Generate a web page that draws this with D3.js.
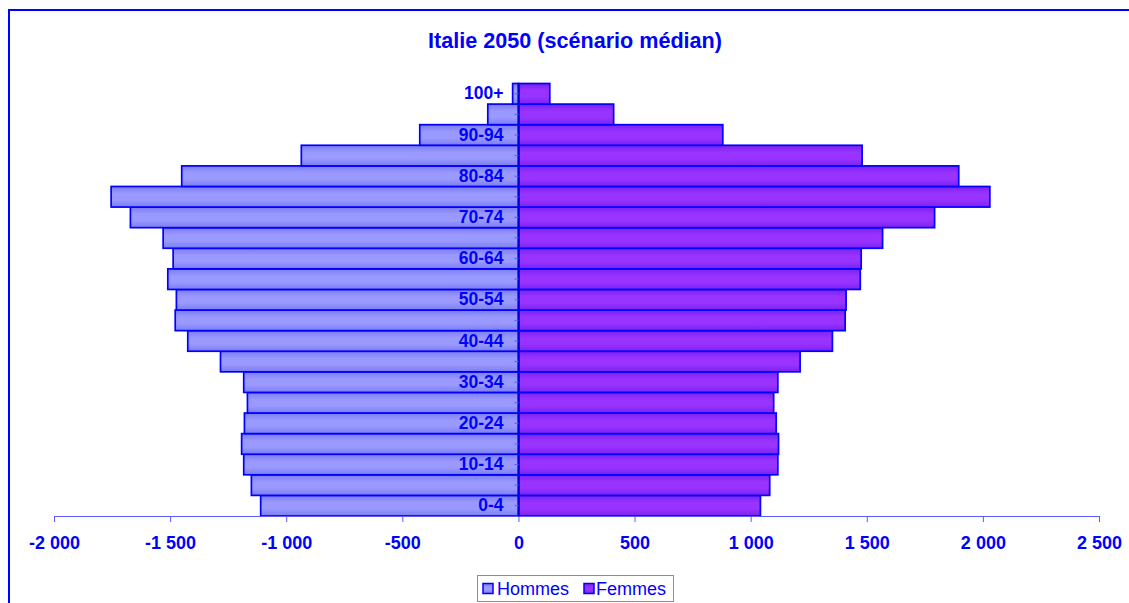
<!DOCTYPE html>
<html>
<head>
<meta charset="utf-8">
<script src="https://cdn.jsdelivr.net/npm/d3@7"></script>
<style>
  html, body { margin: 0; padding: 0; background: #fff; }
  svg { display: block; }
</style>
</head>
<body>
<svg id="chart" width="1129" height="603"></svg>
<script>
// ---- data (thousands) ----
const ages = ["0-4","5-9","10-14","15-19","20-24","25-29","30-34","35-39","40-44","45-49",
              "50-54","55-59","60-64","65-69","70-74","75-79","80-84","85-89","90-94","95-99","100+"];
const hommes = [-1110,-1150,-1183,-1192,-1180,-1167,-1183,-1283,-1424,-1478,
                -1473,-1510,-1487,-1530,-1671,-1754,-1450,-935,-425,-132,-25];
const femmes = [1042,1082,1117,1120,1110,1099,1117,1213,1352,1407,
                1411,1472,1476,1568,1792,2030,1896,1480,880,410,135];
const ageLabels = ["0-4","10-14","20-24","30-34","40-44","50-54","60-64","70-74","80-84","90-94","100+"];
const xTicks = [-2000,-1500,-1000,-500,0,500,1000,1500,2000,2500];
const seriesNames = ["Hommes","Femmes"];
const title = "Italie 2050 (scénario médian)";

const BLUE = "#0000ff";
const svg = d3.select("#chart");

// gradients
const defs = svg.append("defs");
function grad(id, edge, mid) {
  const g = defs.append("linearGradient").attr("id", id)
    .attr("x1", 0).attr("y1", 0).attr("x2", 0).attr("y2", 1);
  g.append("stop").attr("offset", "0%").attr("stop-color", edge);
  g.append("stop").attr("offset", "35%").attr("stop-color", mid);
  g.append("stop").attr("offset", "65%").attr("stop-color", mid);
  g.append("stop").attr("offset", "100%").attr("stop-color", edge);
}
grad("gH", "#7c7cf2", "#9999ff");
grad("gF", "#7a22f2", "#9933ff");

// outer frame
svg.append("path")
  .attr("d", "M9,603 L9,10 L1129,10")
  .attr("fill", "none").attr("stroke", BLUE).attr("stroke-width", 2);

// title
svg.append("text")
  .attr("x", 575).attr("y", 48)
  .attr("text-anchor", "middle")
  .attr("font-family", "'Liberation Sans Narrow','Arial Narrow','Liberation Sans',Arial,sans-serif")
  .attr("font-weight", "bold").attr("font-size", 22)
  .attr("fill", BLUE)
  .attr("textLength", 294).attr("lengthAdjust", "spacingAndGlyphs")
  .text(title);

// scales
const x = d3.scaleLinear().domain([-2000, 2500]).range([54, 1099]);
const y = d3.scaleBand().domain(ages.slice().reverse()).range([83.5, 516]).padding(0);

const rows = ages.map((a, i) => ({ age: a, h: hommes[i], f: femmes[i] }));

// bars
svg.append("g").selectAll("rect").data(rows).join("rect")
  .attr("x", d => x(d.h)).attr("width", d => x(0) - x(d.h))
  .attr("y", d => y(d.age)).attr("height", y.bandwidth())
  .attr("fill", "url(#gH)").attr("stroke", BLUE).attr("stroke-width", 1.7);
svg.append("g").selectAll("rect").data(rows).join("rect")
  .attr("x", x(0)).attr("width", d => x(d.f) - x(0))
  .attr("y", d => y(d.age)).attr("height", y.bandwidth())
  .attr("fill", "url(#gF)").attr("stroke", BLUE).attr("stroke-width", 1.7);

// bottom axis
const loc = d3.formatLocale({ decimal: ",", thousands: " ", grouping: [3], currency: ["", ""], minus: "-" });
const fmt = loc.format(",");
const xAxis = svg.append("g").attr("transform", "translate(0,516)")
  .call(d3.axisBottom(x).tickValues(xTicks).tickFormat(fmt).tickSize(6).tickSizeOuter(6).tickPadding(14));
xAxis.select(".domain").attr("stroke", "#5a5aff");
xAxis.selectAll(".tick line").attr("stroke", "#5a5aff");
xAxis.selectAll("text")
  .attr("font-family", "'Liberation Sans',Arial,sans-serif")
  .attr("font-weight", "bold").attr("font-size", 18).attr("fill", BLUE);

// left (age) axis at zero
const yAxis = svg.append("g").attr("transform", `translate(${x(0)},0)`)
  .call(d3.axisLeft(y).tickSize(4).tickSizeOuter(0).tickPadding(11)
    .tickFormat(d => ageLabels.includes(d) ? d : ""));
yAxis.select(".domain").attr("stroke", "#0000cc").attr("stroke-width", 1.5);
yAxis.selectAll(".tick line").attr("stroke", "#5a5aff");
yAxis.selectAll("text")
  .attr("font-family", "'Liberation Sans',Arial,sans-serif")
  .attr("font-weight", "bold").attr("font-size", 17.5).attr("fill", BLUE);

// legend
const lg = svg.append("g");
lg.append("rect").attr("x", 477.5).attr("y", 575.5).attr("width", 196).attr("height", 26)
  .attr("fill", "#fff").attr("stroke", "#8080ff").attr("stroke-width", 1);
const legendItems = [
  { name: seriesNames[0], fill: "url(#gH)", sx: 483, tx: 497 },
  { name: seriesNames[1], fill: "url(#gF)", sx: 584, tx: 596 }
];
legendItems.forEach(it => {
  lg.append("rect").attr("x", it.sx).attr("y", 583.5).attr("width", 10).attr("height", 10)
    .attr("fill", it.fill).attr("stroke", BLUE).attr("stroke-width", 1.5);
  lg.append("text").attr("x", it.tx).attr("y", 595)
    .attr("font-family", "'Liberation Sans',Arial,sans-serif")
    .attr("font-size", 18).attr("fill", BLUE).text(it.name);
});
</script>
</body>
</html>
